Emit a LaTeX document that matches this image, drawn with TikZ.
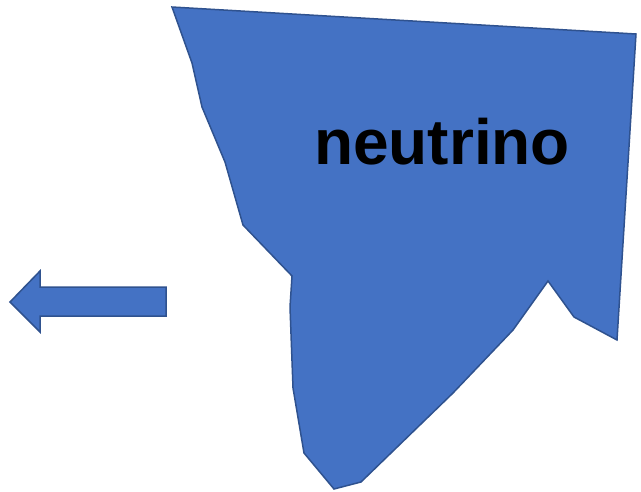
\documentclass[tikz,border=0pt]{standalone}
\usepackage{fontspec}
\setmainfont{Liberation Sans}
\definecolor{shapefill}{HTML}{4472C4}
\definecolor{shapeline}{HTML}{2F528F}
\tikzset{blob/.style={fill=shapefill,draw=shapeline,line width=1.5pt,line join=miter},
  lbl/.style={font=\fontsize{64}{64}\selectfont\bfseries,text=black,inner sep=0pt,anchor=base}}
\begin{document}
\begin{tikzpicture}[x=1pt,y=-1pt]
\useasboundingbox (0,0) rectangle (641,491);
\path[blob] (172,7) -- (636,34) -- (617,340) -- (574,317) -- (548,281) -- (513,330)
  -- (453,393) -- (361,482) -- (334,489) -- (304,453) -- (293,388) -- (290,307)
  -- (292,276) -- (243,225) -- (225,162) -- (202,107) -- (192,63) -- cycle;
\node[lbl] (t) at (442,164) {neutrino};
\path[blob] (10,302) -- (40,271) -- (40,287) -- (166,287) -- (166,316) -- (40,316) -- (40,332) -- cycle;
\end{tikzpicture}
\end{document}
